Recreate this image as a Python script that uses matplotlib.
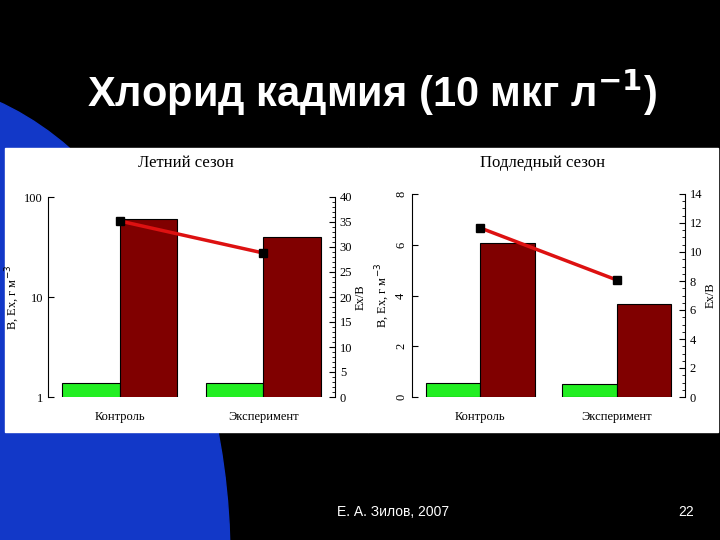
import matplotlib
matplotlib.use("Agg")
import matplotlib.pyplot as plt
from matplotlib.patches import Ellipse, Rectangle
import numpy as np

categories = ["Контроль", "Эксперимент"]
summer_B = [1.38, 1.38]
summer_Ex = [60, 40]
summer_ratio = [35.2, 28.8]
winter_B = [0.55, 0.51]
winter_Ex = [6.07, 3.66]
winter_ratio = [11.66, 8.07]

W, H = 720, 540
fig = plt.figure(figsize=(7.2, 5.4), dpi=100)
fig.patch.set_facecolor("black")

def fx(px): return px / W
def fy(py): return 1 - py / H

bg = fig.add_axes([0, 0, 1, 1]); bg.set_xlim(0, W); bg.set_ylim(H, 0); bg.axis("off")
bg.add_patch(Ellipse((-100, 560), 660, 960, color="#1238c8", zorder=0))
bg.add_patch(Rectangle((5, 148), 363, 284, color="white", zorder=1))
bg.add_patch(Rectangle((368, 148), 350, 284, color="white", zorder=1))
bg.text(372, 93, "Хлорид кадмия (10 мкг л$^{\\mathbf{-1}}$)", color="white", fontsize=30,
        fontweight="bold", ha="center", va="center", family="Liberation Sans", zorder=2)
bg.text(393, 512, "Е. А. Зилов, 2007", color="white", fontsize=10, ha="center", va="center",
        family="Liberation Sans")
bg.text(686, 512, "22", color="white", fontsize=10, ha="center", va="center", family="Liberation Sans")

serif = "Liberation Serif"
x = np.arange(len(categories))
w = 0.4

def panel(l, r, t, b, B, Ex, ratio, title, logy, ylim, y2lim, y2major, y2minor, titlex):
    ax = fig.add_axes([fx(l), fy(b), fx(r) - fx(l), fy(t) - fy(b)])
    ax.set_facecolor("white")
    ax.bar(x - w / 2, B, w, color="#22ee22", edgecolor="black", linewidth=0.8, log=logy)
    ax.bar(x + w / 2, Ex, w, color="#800000", edgecolor="black", linewidth=0.8, log=logy)
    ax.set_xlim(-0.5, 1.5)
    ax.set_ylim(*ylim)
    for s in ["top", "right", "bottom"]:
        ax.spines[s].set_visible(False)
    ax.set_xticks(x)
    ax.set_xticklabels(categories, family=serif, fontsize=9)
    ax.tick_params(axis="x", length=0, pad=10)
    ax.tick_params(axis="y", labelsize=9, length=4, direction="in")
    ax.set_ylabel("B, Ex, г м$^{-3}$", family=serif, fontsize=9, labelpad=2)
    ax2 = ax.twinx()
    ax2.plot(x, ratio, color="#dd1111", lw=2.5, marker="s", ms=6, mfc="black", mec="black")
    ax2.set_ylim(*y2lim)
    ax2.set_yticks(np.arange(y2lim[0], y2lim[1] + 0.01, y2major))
    ax2.set_yticks(np.arange(y2lim[0], y2lim[1] + 0.01, y2minor), minor=True)
    for s in ["top", "left", "bottom"]:
        ax2.spines[s].set_visible(False)
    ax2.tick_params(axis="y", labelsize=9, length=4, direction="in")
    ax2.tick_params(axis="y", which="minor", length=2, direction="in")
    ax2.set_ylabel("Ex/B", family=serif, fontsize=9, labelpad=2)
    for lab in ax.get_yticklabels() + ax2.get_yticklabels():
        lab.set_family(serif)
    bg.text(titlex, 163, title, family=serif, fontsize=12, ha="center", va="center", zorder=3)
    return ax

ax1 = panel(48, 335, 197, 397, summer_B, summer_Ex, summer_ratio, "Летний сезон", True,
            (1, 100), (0, 40), 5, 1, 186)
ax1.yaxis.set_major_formatter(matplotlib.ticker.FuncFormatter(lambda v, p: f"{v:g}"))
ax1.yaxis.set_minor_locator(matplotlib.ticker.NullLocator())

ax3 = panel(412, 685, 194, 397, winter_B, winter_Ex, winter_ratio, "Подледный сезон", False,
            (0, 8), (0, 14), 2, 0.5, 543)
ax3.set_yticks([0, 2, 4, 6, 8])
for lab in ax3.get_yticklabels():
    lab.set_rotation(90)
    lab.set_va("center")

fig.savefig("out.png", dpi=100, facecolor="black")
